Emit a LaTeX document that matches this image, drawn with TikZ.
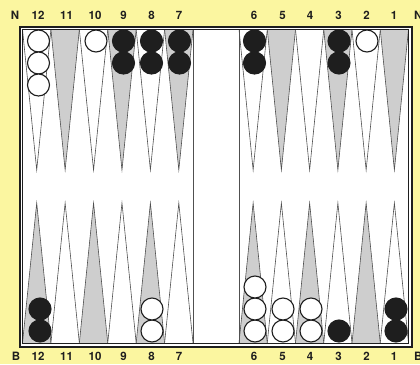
\documentclass[tikz,border=0pt]{standalone}
\usepackage{fontspec}
\setmainfont{TeX Gyre Heros}
\definecolor{bg}{RGB}{251,246,160}
\definecolor{ptgray}{RGB}{206,206,206}
\definecolor{ink}{RGB}{30,30,30}
\definecolor{lineg}{RGB}{80,80,80}
\begin{document}
\begin{tikzpicture}[x=1pt,y=-1pt,
  lbl/.style={font=\bfseries\fontsize{11.5}{13}\selectfont, text=ink, inner sep=0pt},
  wchk/.style={circle, draw=ink, line width=1.1pt, fill=white, minimum size=22pt, inner sep=0pt},
  bchk/.style={circle, draw=ink, line width=1.1pt, fill=ink, minimum size=22pt, inner sep=0pt},
  tri/.style={draw=lineg, line width=0.6pt, line join=miter},
  grayfill/.style={fill=ptgray},
  whitefill/.style={fill=white}]
\useasboundingbox (0,0) rectangle (420,364);
\fill[bg] (0,0) rectangle (420,364);
% frame
\draw[ink, line width=2pt, fill=white] (19.5,26.5) rectangle (411.5,346.5);
% points, left half (12..7)
\foreach \i in {0,...,5}{
  \pgfmathsetmacro{\xa}{22.5+28.42*\i}
  \pgfmathsetmacro{\xb}{22.5+28.42*(\i+1)}
  \pgfmathsetmacro{\xm}{22.5+28.42*(\i+0.5)}
  \ifodd\i
    \draw[tri,grayfill] (\xa,29.5) -- (\xm,170) -- (\xb,29.5);
    \draw[tri,whitefill] (\xa,343) -- (\xm,203) -- (\xb,343);
  \else
    \draw[tri,whitefill] (\xa,29.5) -- (\xm,170) -- (\xb,29.5);
    \draw[tri,grayfill] (\xa,343) -- (\xm,203) -- (\xb,343);
  \fi
}
% points, right half (6..1)
\foreach \i in {0,...,5}{
  \pgfmathsetmacro{\xa}{239+28.25*\i}
  \pgfmathsetmacro{\xb}{239+28.25*(\i+1)}
  \pgfmathsetmacro{\xm}{239+28.25*(\i+0.5)}
  \ifodd\i
    \draw[tri,grayfill] (\xa,29.5) -- (\xm,170) -- (\xb,29.5);
    \draw[tri,whitefill] (\xa,343) -- (\xm,203) -- (\xb,343);
  \else
    \draw[tri,whitefill] (\xa,29.5) -- (\xm,170) -- (\xb,29.5);
    \draw[tri,grayfill] (\xa,343) -- (\xm,203) -- (\xb,343);
  \fi
}
% bar edges
\draw[lineg, line width=0.6pt] (193,29.5) -- (193,343);
\draw[lineg, line width=0.6pt] (239,29.5) -- (239,343);
% inner frame line
\draw[ink, line width=0.8pt] (22.5,29.5) rectangle (408.5,343);
% labels
\foreach \n/\x in {12/38,11/66.5,10/95,9/123.5,8/151.5,7/179,6/254,5/282.5,4/310,3/338.5,2/366.5,1/394}{
  \node[lbl] (t\n) at (\x,15) {\n};
  \node[lbl] (b\n) at (\x,356) {\n};
}
\node[lbl] (nl) at (15,15) {N};
\node[lbl, anchor=west] (nr) at (414,15) {N};
\node[lbl] (bl) at (16,356) {B};
\node[lbl, anchor=west] (br) at (414,356) {B};
% checkers top
\node[wchk] (c12a) at (38.5,41) {};
\node[wchk] (c12b) at (38.5,63) {};
\node[wchk] (c12c) at (38.5,85) {};
\node[wchk] (c10a) at (96,41) {};
\node[bchk] (c9a) at (123.5,41) {};
\node[bchk] (c9b) at (123.5,63) {};
\node[bchk] (c8a) at (151.5,41) {};
\node[bchk] (c8b) at (151.5,63) {};
\node[bchk] (c7a) at (179.5,41) {};
\node[bchk] (c7b) at (179.5,63) {};
\node[bchk] (c6a) at (254.5,41) {};
\node[bchk] (c6b) at (254.5,63) {};
\node[bchk] (c3a) at (339,41) {};
\node[bchk] (c3b) at (339,63) {};
\node[wchk] (c2a) at (367,41) {};
% checkers bottom
\node[bchk] (d12a) at (40,331) {};
\node[bchk] (d12b) at (40,309) {};
\node[wchk] (d8a) at (152,331) {};
\node[wchk] (d8b) at (152,309) {};
\node[wchk] (d6a) at (255,331) {};
\node[wchk] (d6b) at (255,309) {};
\node[wchk] (d6c) at (255,287) {};
\node[wchk] (d5a) at (283,331) {};
\node[wchk] (d5b) at (283,309) {};
\node[wchk] (d4a) at (311,331) {};
\node[wchk] (d4b) at (311,309) {};
\node[bchk] (d3a) at (339,331) {};
\node[bchk] (d1a) at (396,331) {};
\node[bchk] (d1b) at (396,309) {};
\end{tikzpicture}
\end{document}
